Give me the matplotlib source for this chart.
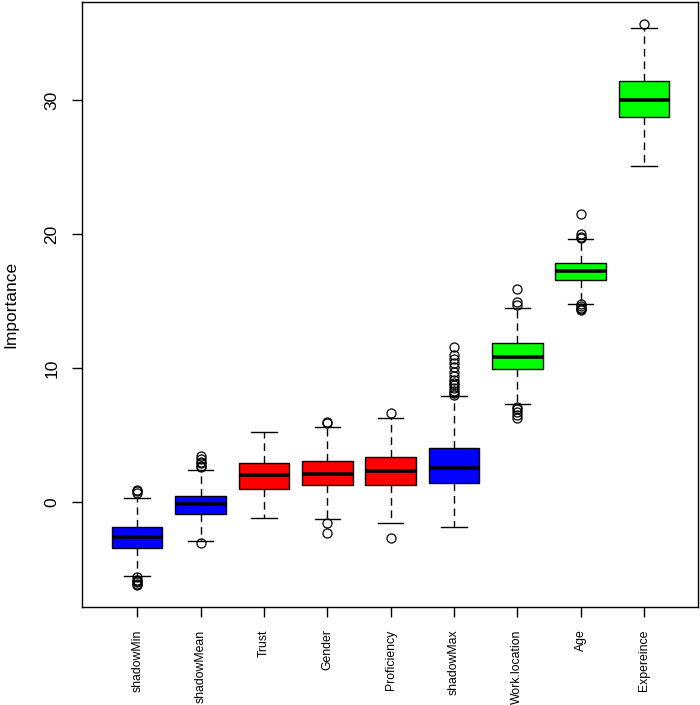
import matplotlib
matplotlib.use("Agg")
import matplotlib.pyplot as plt

plt.rcParams['font.family'] = ['Liberation Sans', 'DejaVu Sans']

categories = ["shadowMin", "shadowMean", "Trust", "Gender", "Proficiency",
              "shadowMax", "Work.location", "Age", "Expereince"]
colors = ["#0000ff", "#0000ff", "#ff0000", "#ff0000", "#ff0000",
          "#0000ff", "#00ff00", "#00ff00", "#00ff00"]
medians = [-2.6, -0.15, 2.0, 2.1, 2.3, 2.5, 10.8, 17.2, 30.0]
q1 = [-3.4, -0.9, 0.95, 1.3, 1.3, 1.4, 9.9, 16.6, 28.7]
q3 = [-1.9, 0.45, 2.9, 3.05, 3.35, 4.0, 11.85, 17.8, 31.4]
whisk_lo = [-5.5, -2.9, -1.2, -1.3, -1.55, -1.85, 7.3, 14.8, 25.1]
whisk_hi = [0.3, 2.4, 5.2, 5.6, 6.3, 7.9, 14.5, 19.6, 35.4]
fliers = [
    [0.65, 0.8, 0.9, -5.6, -5.8, -5.9, -6.0, -6.1, -6.2],
    [2.6, 2.7, 2.9, 3.0, 3.2, 3.4, -3.05],
    [],
    [5.9, 5.95, -1.55, -2.3],
    [6.65, -2.7],
    [8.0, 8.1, 8.3, 8.5, 8.7, 8.9, 9.1, 9.4, 9.7, 10.1, 10.4, 10.7, 11.0, 11.6],
    [14.7, 14.9, 15.9, 7.1, 6.9, 6.7, 6.5, 6.3],
    [19.7, 19.8, 20.0, 21.5, 14.8, 14.6, 14.5, 14.4, 14.3],
    [35.7],
]
yticks = [0, 10, 20, 30]

stats = []
for i, name in enumerate(categories):
    stats.append(dict(label=name, med=medians[i], q1=q1[i], q3=q3[i],
                      whislo=whisk_lo[i], whishi=whisk_hi[i], fliers=fliers[i]))

fig = plt.figure(figsize=(7, 7.05), dpi=100)
ax = fig.add_axes([82/700, 1-607/705, (698-82)/700, (607-2)/705])

positions = list(range(1, len(categories) + 1))
bp = ax.bxp(stats, positions=positions, widths=0.8, patch_artist=True,
            boxprops=dict(edgecolor='black', linewidth=1.0),
            medianprops=dict(color='black', linewidth=2.6, solid_capstyle='butt'),
            whiskerprops=dict(color='black', linewidth=1.0, linestyle=(0, (5.5, 3.5))),
            capprops=dict(color='black', linewidth=1.0),
            capwidths=0.4,
            flierprops=dict(marker='o', markerfacecolor='none', markeredgecolor='black',
                            markersize=6.5, markeredgewidth=0.9, linestyle='none'))
for patch, c in zip(bp['boxes'], colors):
    patch.set_facecolor(c)

ax.set_xlim(0.13, 9.85)
ax.set_ylim(-7.84, 37.31)
ax.set_yticks(yticks)
ax.set_yticklabels([str(v) for v in yticks], rotation=90, va='center', fontsize=12.5)
ax.set_xticks(positions)
ax.set_xticklabels(categories, rotation=90, fontsize=8.8)
ax.tick_params(direction='out', length=7.2, width=1.0)
ax.tick_params(axis='y', pad=9)
ax.tick_params(axis='x', pad=9)
ax.set_ylabel("Importance", fontsize=12.5)
ax.yaxis.set_label_coords(-0.103, 0.5)
for s in ax.spines.values():
    s.set_linewidth(1.0)

fig.savefig("out.png", dpi=100)
